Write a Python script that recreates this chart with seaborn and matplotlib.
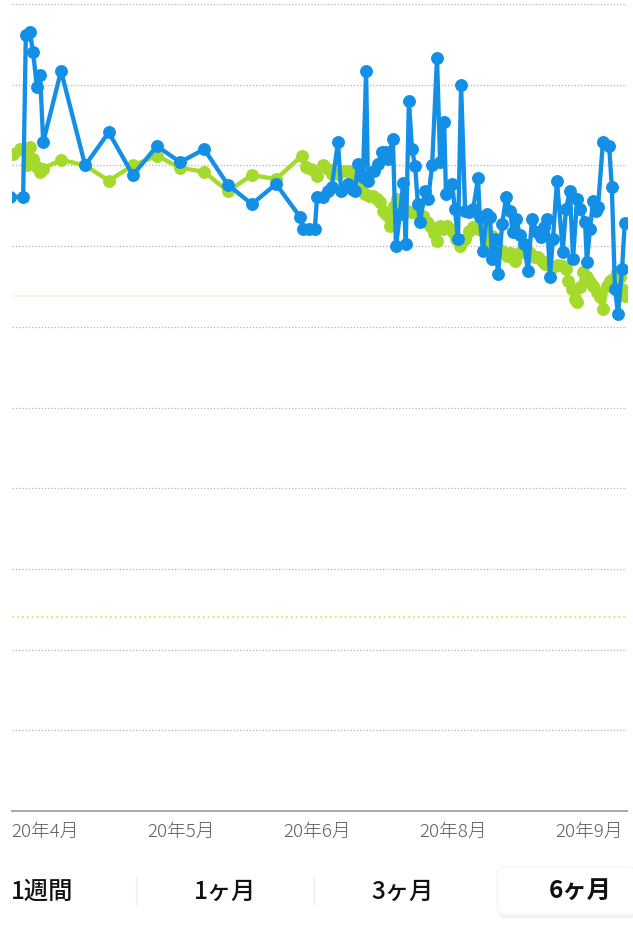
import numpy as np
import pandas as pd
import matplotlib
matplotlib.use("Agg")
import matplotlib.pyplot as plt
import seaborn as sns
from matplotlib.patches import FancyBboxPatch

# day index (0 = first month label) and weight values
blue_day = [-7.8, -4.9, -4.3, -3.4, -2.7, -1.8, -1.1, -0.4, 3.6, 9.0, 14.3, 19.7, 25.1, 30.3, 35.7,
            41.0, 46.4, 51.8, 57.2, 57.8, 59.2, 60.5, 61.0, 62.3, 63.5, 64.3, 65.7, 66.4, 67.9, 68.8,
            69.5, 70.2, 71.3, 72.0, 72.4, 73.8, 74.7, 75.6, 76.5, 76.9, 78.0, 78.7, 79.6, 80.3, 80.9,
            81.6, 82.3, 83.0, 83.6, 84.1, 85.2, 85.9, 86.8, 87.9, 88.6, 89.5, 89.9, 91.3, 91.9, 92.6,
            93.3, 94.2, 95.1, 96.0, 97.1, 97.5, 98.2, 99.1, 99.8, 100.2, 100.9, 101.6, 102.5, 103.4,
            104.3, 104.9, 105.6, 106.5, 107.4, 108.3, 109.2, 110.3, 111.2, 111.9, 112.6, 113.2, 113.9,
            114.8, 116.1, 116.8, 117.7, 118.4, 119.3, 120.0, 121.1, 121.5, 122.2, 122.9, 123.5, 124.0,
            125.1, 126.5, 127.1, 127.8, 128.5, 129.4, 130.0]
blue_kg = [67.61, 67.61, 69.62, 69.65, 69.41, 68.97, 69.12, 68.29, 69.17, 68.00, 68.41, 67.88, 68.24,
           68.04, 68.20, 67.76, 67.52, 67.77, 67.36, 67.21, 67.21, 67.21, 67.61, 67.61, 67.68, 67.73,
           68.29, 67.68, 67.77, 67.71, 67.68, 68.02, 67.86, 69.17, 67.81, 67.93, 68.02, 68.17, 68.17,
           68.08, 68.33, 67.00, 67.40, 67.78, 67.03, 68.80, 68.20, 67.99, 67.52, 67.30, 67.68, 67.58,
           68.00, 69.33, 68.04, 68.54, 67.65, 67.77, 67.46, 67.09, 69.00, 67.43, 67.42, 67.46, 67.84,
           67.36, 66.94, 67.40, 67.36, 66.84, 67.09, 66.65, 67.27, 67.61, 67.43, 67.17, 67.34, 67.14,
           67.03, 66.69, 67.34, 67.17, 67.11, 67.24, 67.34, 66.62, 67.09, 67.81, 66.93, 67.46, 67.68,
           66.84, 67.58, 67.46, 67.30, 66.80, 67.21, 67.56, 67.43, 67.48, 68.29, 68.24, 67.73, 66.47,
           66.16, 66.72, 67.29]

green_day = [-8.3, -7.2, -5.6, -4.5, -4.0, -3.4, -2.7, -1.8, -1.1, -0.4, 3.6, 9.0, 14.3, 19.7, 25.1,
             30.3, 35.7, 41.0, 46.4, 51.8, 57.6, 58.5, 59.6, 61.0, 62.3, 63.5, 64.3, 65.7, 66.8, 67.9,
             68.8, 70.0, 70.9, 71.7, 72.6, 73.5, 74.4, 75.1, 75.8, 76.5, 76.9, 77.4, 78.3, 78.9, 79.6,
             80.5, 81.2, 82.1, 83.0, 83.9, 84.8, 85.7, 86.3, 87.2, 87.9, 88.6, 89.2, 90.1, 90.8, 91.5,
             92.2, 93.0, 94.2, 95.1, 96.0, 97.1, 98.2, 99.3, 100.2, 101.3, 102.5, 103.6, 104.3, 104.9,
             105.4, 106.3, 107.0, 108.1, 108.7, 109.6, 110.5, 111.4, 112.1, 113.0, 113.9, 115.0, 116.1,
             116.8, 117.3, 118.2, 118.8, 119.3, 120.0, 120.6, 121.5, 122.2, 122.9, 123.8, 124.4, 125.1,
             126.0, 126.7, 127.4, 128.3, 128.9, 129.4, 130.0]
green_kg = [68.14, 68.14, 68.20, 68.18, 68.00, 68.23, 68.08, 67.98, 67.92, 67.96, 68.07, 68.00, 67.81,
            68.00, 68.12, 67.97, 67.92, 67.68, 67.88, 67.83, 68.12, 67.98, 67.96, 67.87, 68.00, 67.96,
            67.89, 67.89, 67.93, 67.93, 67.86, 67.81, 67.71, 67.65, 67.62, 67.62, 67.58, 67.55, 67.43,
            67.40, 67.37, 67.25, 67.50, 67.58, 67.48, 67.43, 67.43, 67.42, 67.42, 67.39, 67.37, 67.30,
            67.25, 67.16, 67.06, 67.25, 67.21, 67.25, 67.21, 67.17, 67.09, 67.00, 67.09, 67.19, 67.24,
            67.21, 67.24, 67.06, 67.13, 67.00, 66.94, 66.88, 66.91, 66.88, 66.82, 66.91, 66.93, 66.91,
            66.91, 66.87, 66.86, 66.82, 66.78, 66.76, 66.74, 66.77, 66.75, 66.72, 66.57, 66.47, 66.34,
            66.31, 66.49, 66.68, 66.62, 66.56, 66.51, 66.43, 66.37, 66.22, 66.51, 66.57, 66.59, 66.68,
            66.62, 66.47, 66.38]

tick_days = [0, 30.5, 61, 91.5, 122]
tick_labels = ["20年4月", "20年5月", "20年6月", "20年8月", "20年9月"]
buttons = ["1週間", "1ヶ月", "3ヶ月", "6ヶ月"]
goal_kg = 62.4
upper_kg = 66.38

sns.set_theme(style="white")
plt.rcParams['font.family'] = ['Noto Sans CJK JP', 'DejaVu Sans']

blue_df = pd.DataFrame({"day": blue_day, "kg": blue_kg})
green_df = pd.DataFrame({"day": green_day, "kg": green_kg})

fig = plt.figure(figsize=(6.33, 9.37), dpi=100)
ax = fig.add_axes([12 / 633, 1 - 812 / 937, 615 / 633, 807 / 937])

for yv in range(61, 71):
    ax.axhline(yv, color="#b4b4b8", lw=0.9, ls=(0, (1, 1.6)), zorder=0)
ax.axhline(upper_kg, color="#f6f2dc", lw=1.2, zorder=0)
ax.axhline(goal_kg, color="#d9ee95", lw=1.6, ls=(0, (1, 1.2)), zorder=0)
ax.axvline(130.7, color="#fbf8e6", lw=1.2, zorder=0)

sns.lineplot(data=green_df, x="day", y="kg", ax=ax, color="#a3da2c", lw=3.1,
             marker="o", markersize=9.3, markeredgewidth=0, sort=False, estimator=None, zorder=3)
sns.lineplot(data=blue_df, x="day", y="kg", ax=ax, color="#138fe6", lw=3.1,
             marker="o", markersize=9.3, markeredgewidth=0, sort=False, estimator=None, zorder=4)

ax.set_xlim(-7.4, 130.5)
ax.set_ylim(60, 70)
ax.set_yticks([])
ax.set_xticks(tick_days)
ax.set_xticklabels(tick_labels, fontsize=13.5, color="#5a5d63", fontweight="light")
ax.tick_params(axis="x", length=0, pad=8)
ax.set_xlabel("")
ax.set_ylabel("")
for side in ["top", "left", "right"]:
    ax.spines[side].set_visible(False)
ax.spines["bottom"].set_color("#a4a8ad")
ax.spines["bottom"].set_linewidth(1.4)
ax.grid(False)

# period selector at the bottom
shadow = FancyBboxPatch((498 / 633, 1 - 919 / 937), 140 / 633, 48 / 937,
                        boxstyle="round,pad=0,rounding_size=0.012", transform=fig.transFigure,
                        facecolor="#e9f1fb", edgecolor="none", zorder=0)
sel = FancyBboxPatch((497 / 633, 1 - 916 / 937), 140 / 633, 48 / 937,
                     boxstyle="round,pad=0,rounding_size=0.012", transform=fig.transFigure,
                     facecolor="white", edgecolor="#f1f4f8", lw=0.8, zorder=1)
fig.patches.extend([shadow, sel])
for sx in [136, 314]:
    fig.add_artist(plt.Line2D([sx / 633, sx / 633], [1 - 906 / 937, 1 - 878 / 937],
                              color="#eeeeee", lw=1, transform=fig.transFigure))
for bx, txt, wt in zip([42, 225, 403, 580], buttons, ["medium", "medium", "medium", "bold"]):
    fig.text(bx / 633, 1 - 892 / 937, txt, ha="center", va="center", fontsize=17.5,
             color="#111111", fontweight=wt, zorder=2)

fig.savefig("out.png", dpi=100, facecolor="white")
